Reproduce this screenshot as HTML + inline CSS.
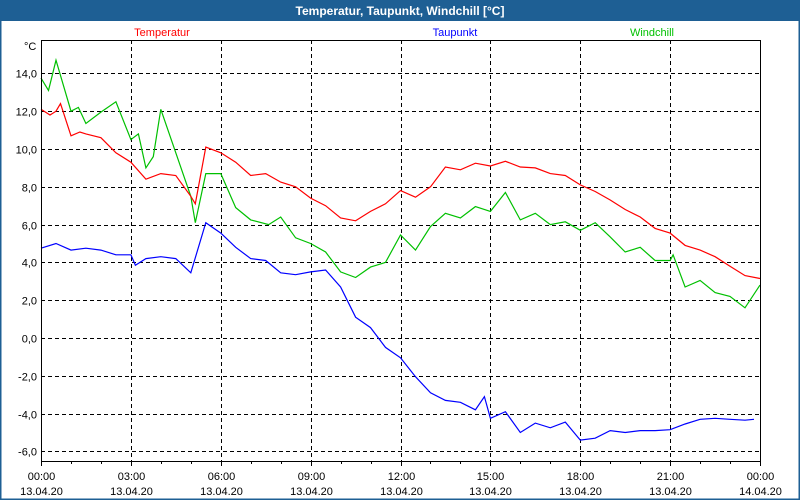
<!DOCTYPE html>
<html><head><meta charset="utf-8">
<style>
html,body{margin:0;padding:0;background:#fff;}
#wrap{position:relative;width:800px;height:500px;overflow:hidden;font-family:"Liberation Sans",sans-serif;}
svg{position:absolute;left:0;top:0;}
</style></head>
<body>
<div id="wrap">
<svg id="chart" width="800" height="500"></svg>
</div>
<script>
const tempHours=[0,0.3,0.5,0.65,1,1.3,1.5,2,2.5,3,3.5,4,4.5,5,5.15,5.5,6,6.5,7,7.5,8,8.5,9,9.5,10,10.5,11,11.5,12,12.5,13,13.5,14,14.5,15,15.5,16,16.5,17,17.5,18,18.5,19,19.5,20,20.5,21,21.5,22,22.5,23,23.5,24];
const tempValues=[12.1,11.8,12.0,12.4,10.7,10.9,10.8,10.6,9.8,9.3,8.4,8.7,8.6,7.5,7.1,10.1,9.8,9.3,8.6,8.7,8.25,8.0,7.4,7.0,6.35,6.2,6.7,7.1,7.8,7.45,8.0,9.05,8.9,9.25,9.1,9.35,9.05,9.0,8.7,8.6,8.1,7.75,7.3,6.8,6.4,5.8,5.55,4.9,4.65,4.3,3.8,3.3,3.15];
const dewHours=[0,0.5,1,1.5,2,2.5,3,3.15,3.5,4,4.5,5,5.5,6,6.5,7,7.5,8,8.5,9,9.5,10,10.5,11,11.5,12,12.5,13,13.5,14,14.5,14.8,15,15.5,16,16.5,17,17.5,18,18.5,19,19.5,20,20.5,21,21.5,22,22.5,23,23.5,23.8];
const dewValues=[4.75,5.0,4.65,4.75,4.65,4.4,4.4,3.85,4.2,4.3,4.2,3.45,6.1,5.55,4.8,4.2,4.1,3.45,3.35,3.5,3.6,2.7,1.1,0.55,-0.5,-1.05,-2.05,-2.9,-3.3,-3.4,-3.8,-3.1,-4.25,-3.9,-5.0,-4.5,-4.75,-4.45,-5.4,-5.3,-4.9,-5.0,-4.9,-4.9,-4.85,-4.55,-4.3,-4.25,-4.3,-4.35,-4.3];
const chillHours=[0,0.25,0.5,1,1.25,1.5,2,2.5,3,3.25,3.5,3.75,4,4.5,5,5.15,5.5,6,6.5,7,7.6,8,8.5,9,9.5,10,10.5,11,11.5,12,12.5,13,13.5,14,14.5,15,15.5,16,16.5,17,17.5,18,18.5,19,19.5,20,20.5,21,21.1,21.5,22,22.5,23,23.5,24];
const chillValues=[13.75,13.1,14.7,12.0,12.2,11.35,11.95,12.5,10.5,10.8,9.0,9.6,12.1,9.8,7.5,6.1,8.7,8.7,6.9,6.25,6.0,6.4,5.3,5.0,4.55,3.5,3.2,3.75,4.0,5.45,4.65,5.9,6.6,6.35,6.95,6.7,7.7,6.25,6.6,6.0,6.15,5.7,6.1,5.35,4.55,4.8,4.1,4.1,4.4,2.7,3.05,2.4,2.2,1.6,2.8];
const yTicks=[14,12,10,8,6,4,2,0,-2,-4,-6];
const xTickHours=[0,3,6,9,12,15,18,21,24];
const xTimeLabels=["00:00","03:00","06:00","09:00","12:00","15:00","18:00","21:00","00:00"];
const xDateLabels=["13.04.20","13.04.20","13.04.20","13.04.20","13.04.20","13.04.20","13.04.20","13.04.20","14.04.20"];

const L=41,R=760,T=40,B=461;
const xs=h=>L+h*(R-L)/24;
const ys=v=>338-v*18.9;
const NS="http://www.w3.org/2000/svg";
const svg=document.getElementById('chart');
function mk(tag,attrs,parent){const e=document.createElementNS(NS,tag);for(const k in attrs)e.setAttribute(k,attrs[k]);(parent||svg).appendChild(e);return e;}

// window frame
let r=mk('rect',{x:0,y:0,width:800,height:500,fill:'#fff',stroke:'#1e5f94','stroke-width':3});


r=mk('rect',{x:0,y:0,width:800,height:21,fill:'#1e5f94'});


let t=mk('text',{x:400,y:15,'text-anchor':'middle','font-size':12,'font-weight':'bold',fill:'#fff'});
t.textContent='Temperatur, Taupunkt, Windchill [°C]';



// legend
const leg=[['Temperatur','#ff0000',162],['Taupunkt','#0000ff',455],['Windchill','#00c000',652]];
leg.forEach(l=>{const e=mk('text',{x:l[2],y:36,'text-anchor':'middle','font-size':11,fill:l[1]});e.textContent=l[0];

});

// grid
yTicks.forEach(v=>{const y=Math.round(ys(v))+0.5;
const g=mk('line',{x1:L,x2:R,y1:y,y2:y,stroke:'#000','stroke-dasharray':'4,3','stroke-width':1});


const e=mk('text',{x:37,y:y+4,'text-anchor':'end','font-size':11,fill:'#000'});e.textContent=v.toFixed(1).replace('.',',');

});
xTickHours.forEach((h,i)=>{const x=Math.round(xs(h))+0.5;
if(i>0&&i<xTickHours.length-1){const g=mk('line',{x1:x,x2:x,y1:T,y2:B,stroke:'#000','stroke-dasharray':'4,3','stroke-width':1});

}
const a=mk('text',{x:x,y:480,'text-anchor':'middle','font-size':11,fill:'#000'});a.textContent=xTimeLabels[i];


const b=mk('text',{x:x,y:495,'text-anchor':'middle','font-size':11,fill:'#000'});b.textContent=xDateLabels[i];

});
for(let h=0;h<=24;h++){const x=Math.round(xs(h))+0.5;const tk=mk('line',{x1:x,x2:x,y1:B,y2:B+(h%3==0?5:3),stroke:'#000'});

}
t=mk('text',{x:24,y:50,'font-size':11,fill:'#000'});t.textContent='°C';



// series
function series(hs,vs,color,name){const p=hs.map((h,i)=>xs(h).toFixed(1)+','+ys(vs[i]).toFixed(1)).join(' ');
const e=mk('polyline',{points:p,fill:'none',stroke:color,'stroke-width':1.2});

}
series(chillHours,chillValues,'#00c000','windchill-line');
series(tempHours,tempValues,'#ff0000','temperature-line');
series(dewHours,dewValues,'#0000ff','dewpoint-line');

// plot frame
r=mk('rect',{x:L+0.5,y:T+0.5,width:R-L,height:B-T,fill:'none',stroke:'#000','stroke-width':1});


</script>
</body></html>
